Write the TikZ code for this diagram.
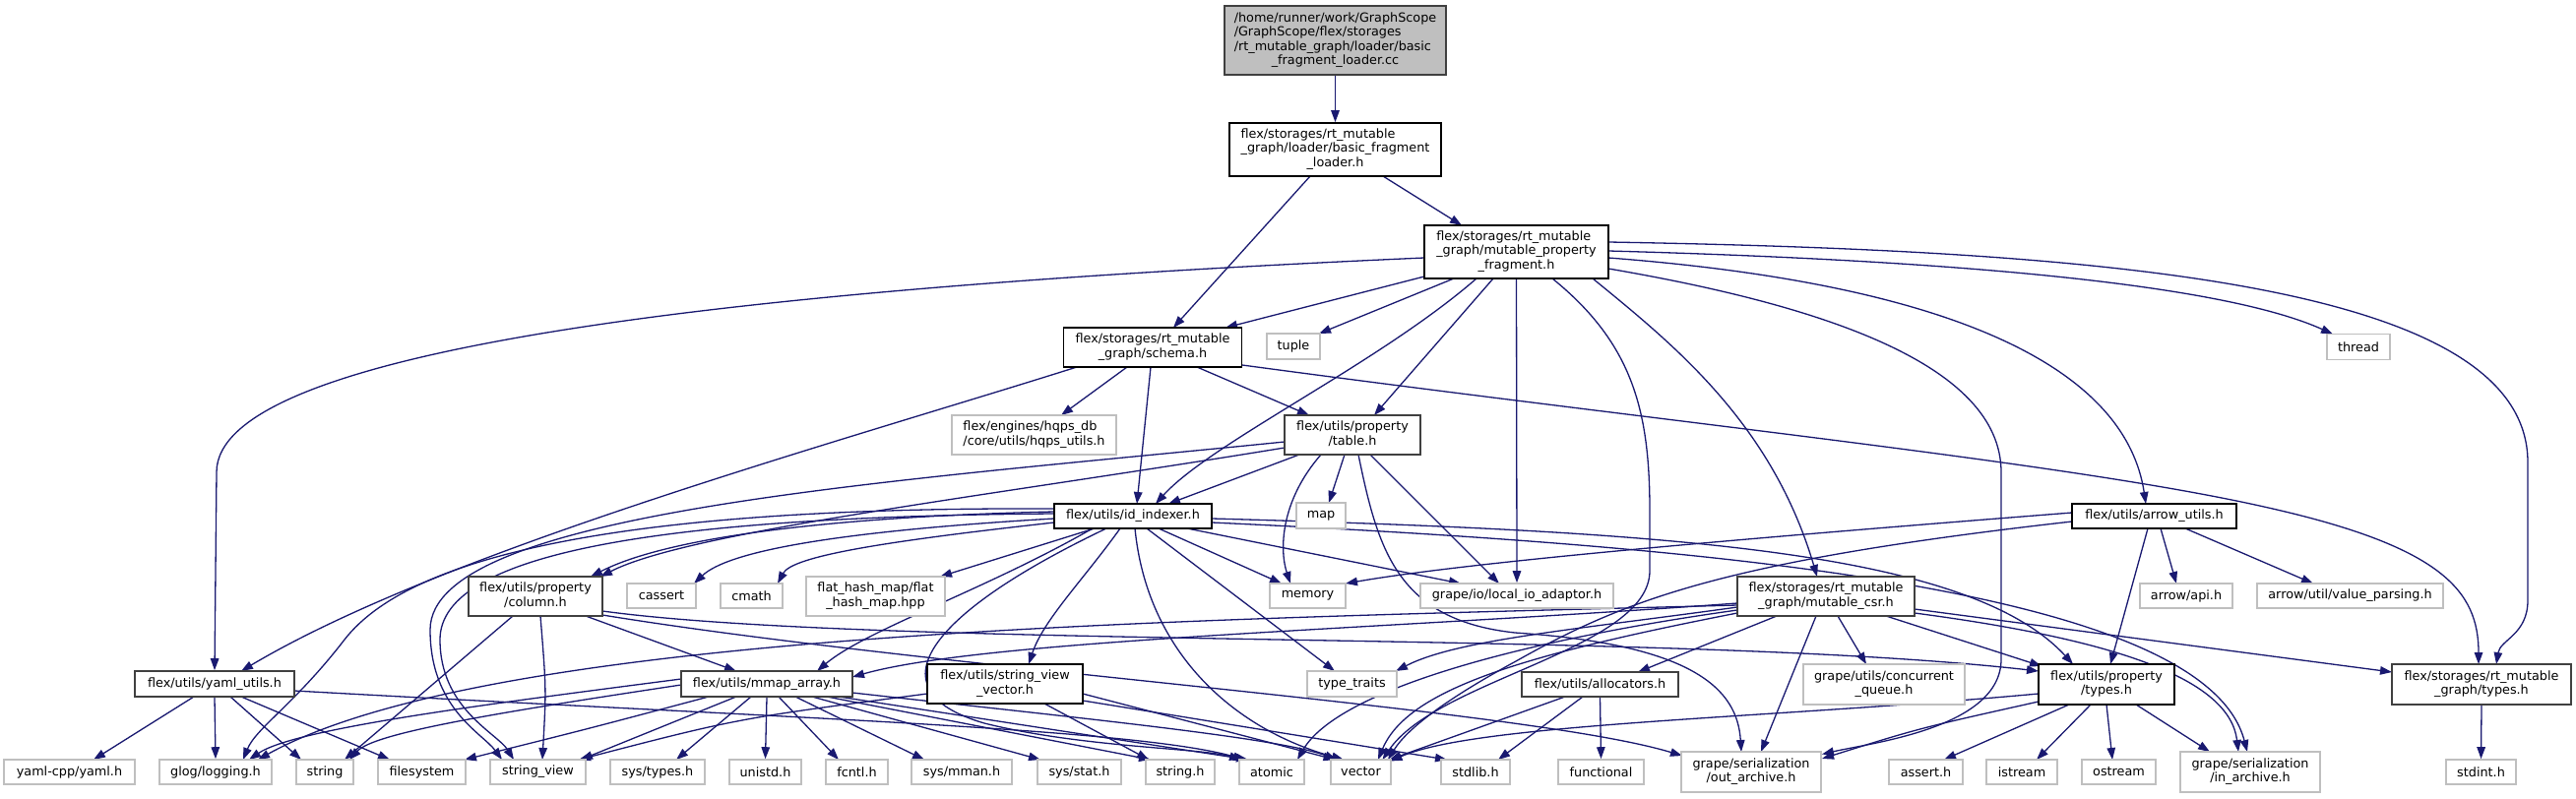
\documentclass[tikz,border=0pt]{standalone}
\usepackage{fontspec}
\setmainfont{DejaVu Sans}
\usetikzlibrary{arrows.meta,calc,backgrounds}
\definecolor{edgeblue}{HTML}{191970}
\definecolor{extgray}{HTML}{BFBFBF}
\definecolor{darkb}{HTML}{404040}
\newcommand\twol[2]{\begin{tabular}{@{}l@{}}#1\\\multicolumn{1}{@{}c@{}}{#2}\end{tabular}}
\tikzset{
  bx/.style 2 args={minimum width=#1pt, minimum height=#2pt},
  nd/.style={rectangle, inner sep=0pt, line width=1.6pt, fill=white, text=black,
             font=\fontsize{12.8pt}{14.5pt}\selectfont},
  ib/.style={nd, draw=black},
  ig/.style={nd, draw=darkb},
  xb/.style={nd, draw=extgray},
  rootb/.style={nd, draw=darkb, fill=extgray},
  edg/.style={draw=edgeblue, line width=1.3pt, -{Triangle[length=12pt,width=8.5pt]}}
}
\begin{document}
\begin{tikzpicture}[x=1pt,y=-1pt]
\useasboundingbox (0,0) rectangle (2617,811);
% ---------- nodes ----------
\node[rootb,bx={225}{70}] (root) at (1356.5,41) {\twol{/home/runner/work/GraphScope\\/GraphScope/flex/storages\\/rt\_mutable\_graph/loader/basic}{\_fragment\_loader.cc}};
\node[ib,bx={215}{54}] (basic) at (1356.5,152) {\twol{flex/storages/rt\_mutable\\\_graph/loader/basic\_fragment}{\_loader.h}};
\node[ib,bx={187}{54}] (frag) at (1540.5,256) {\twol{flex/storages/rt\_mutable\\\_graph/mutable\_property}{\_fragment.h}};
\node[ib,bx={181}{40}] (schema) at (1171,353) {\twol{flex/storages/rt\_mutable}{\_graph/schema.h}};
\node[xb,bx={54}{26}] (tuple) at (1314,352) {tuple};
\node[xb,bx={64}{26}] (thread) at (2396,352.5) {thread};
\node[xb,bx={167}{40}] (hqps) at (1050.5,442) {\twol{flex/engines/hqps\_db}{/core/utils/hqps\_utils.h}};
\node[ig,bx={138}{40}] (table) at (1374,442) {\twol{flex/utils/property}{/table.h}};
\node[ib,bx={160}{25}] (idx) at (1151,524.5) {flex/utils/id\_indexer.h};
\node[xb,bx={50}{26}] (map) at (1342,524) {map};
\node[ib,bx={167}{25}] (arrowu) at (2188.5,524.5) {flex/utils/arrow\_utils.h};
\node[ig,bx={136}{40}] (column) at (544,606) {\twol{flex/utils/property}{/column.h}};
\node[xb,bx={70}{25}] (cassert) at (672,605.5) {cassert};
\node[xb,bx={63}{25}] (cmath) at (763.5,605.5) {cmath};
\node[xb,bx={141}{40}] (flat) at (889.5,606) {\twol{flat\_hash\_map/flat}{\_hash\_map.hpp}};
\node[xb,bx={77}{25}] (memory) at (1328.5,605.5) {memory};
\node[xb,bx={196}{25}] (localio) at (1541,605.5) {grape/io/local\_io\_adaptor.h};
\node[ig,bx={180}{40}] (csr) at (1855,606) {\twol{flex/storages/rt\_mutable}{\_graph/mutable\_csr.h}};
\node[xb,bx={94}{25}] (arrowapi) at (2221,605.5) {arrow/api.h};
\node[xb,bx={189}{25}] (valparse) at (2387.5,605.5) {arrow/util/value\_parsing.h};
\node[ig,bx={162}{26}] (yaml) at (218,695) {flex/utils/yaml\_utils.h};
\node[ig,bx={174}{26}] (mmap) at (779,695) {flex/utils/mmap\_array.h};
\node[ib,bx={158}{40}] (svv) at (1021,695) {\twol{flex/utils/string\_view}{\_vector.h}};
\node[xb,bx={91}{26}] (typetr) at (1373.5,695) {type\_traits};
\node[ig,bx={159}{25}] (alloc) at (1625.5,695.5) {flex/utils/allocators.h};
\node[xb,bx={164}{41}] (cqueue) at (1914,695.5) {\twol{grape/utils/concurrent}{\_queue.h}};
\node[ib,bx={138}{41}] (ptypes) at (2140,695.5) {\twol{flex/utils/property}{/types.h}};
\node[ig,bx={182}{41}] (rtypes) at (2521,695.5) {\twol{flex/storages/rt\_mutable}{\_graph/types.h}};
% bottom row
\node[xb,bx={133}{25}] (yamlcpp) at (70.5,784.5) {yaml-cpp/yaml.h};
\node[xb,bx={114}{25}] (glog) at (219,784.5) {glog/logging.h};
\node[xb,bx={58}{25}] (string) at (330,784.5) {string};
\node[xb,bx={89}{25}] (fs) at (428.5,784.5) {filesystem};
\node[xb,bx={97}{25}] (sv) at (546.5,784.5) {string\_view};
\node[xb,bx={96}{25}] (systypes) at (668,784.5) {sys/types.h};
\node[xb,bx={73}{25}] (unistd) at (777.5,784.5) {unistd.h};
\node[xb,bx={63}{25}] (fcntl) at (870.5,784.5) {fcntl.h};
\node[xb,bx={102}{25}] (sysmman) at (977,784.5) {sys/mman.h};
\node[xb,bx={85}{25}] (sysstat) at (1096.5,784.5) {sys/stat.h};
\node[xb,bx={70}{25}] (stringh) at (1199,784.5) {string.h};
\node[xb,bx={66}{25}] (atomic) at (1292,784.5) {atomic};
\node[xb,bx={61}{25}] (vector) at (1382.5,784.5) {vector};
\node[xb,bx={70}{25}] (stdlib) at (1499,784.5) {stdlib.h};
\node[xb,bx={87}{25}] (functional) at (1626.5,784.5) {functional};
\node[xb,bx={142}{41}] (outar) at (1779,784.5) {\twol{grape/serialization}{/out\_archive.h}};
\node[xb,bx={75}{25}] (asserth) at (1956.5,784.5) {assert.h};
\node[xb,bx={72}{25}] (istream) at (2054,784.5) {istream};
\node[xb,bx={75}{25}] (ostream) at (2152.5,784.5) {ostream};
\node[xb,bx={142}{41}] (inar) at (2286,784.5) {\twol{grape/serialization}{/in\_archive.h}};
\node[xb,bx={71}{25}] (stdint) at (2520.5,784.5) {stdint.h};
% ---------- edges ----------
\begin{pgfonlayer}{background}
\fill[white] (0,0) rectangle (2617,811);
\draw[edg] (root.south) -- (basic.north);
\draw[edg] ($(basic)+(-25.5,27)$) -- ($(schema)+(21,-20)$);
\draw[edg] ($(basic)+(48.5,27)$) -- ($(frag)+(-55.5,-27)$);
% fragment
\draw[edg] ($(frag)+(-93.5,25)$) -- ($(schema)+(74,-20)$);
\draw[edg] ($(frag)+(-63.5,27)$) -- ($(tuple)+(26,-13)$);
\draw[edg] ($(frag)+(-40.5,27)$) .. controls (1400,370) and (1230,450) .. ($(idx)+(23,-12.5)$);
\draw[edg] ($(frag)+(-23.5,27)$) -- ($(table)+(22,-20)$);
\draw[edg] (frag.south) -- (localio.north);
\draw[edg] ($(frag)+(36.5,27)$) .. controls (1660,350) and (1676,420) .. (1676,520) -- (1676,580) .. controls (1676,660) and (1460,690) .. ($(vector)+(22,-12.5)$);
\draw[edg] ($(frag)+(77.5,27)$) .. controls (1700,350) and (1800,430) .. ($(csr)+(-9,-20)$);
\draw[edg] ($(frag)+(93.5,17)$) .. controls (1850,310) and (2033,370) .. (2033,480) -- (2033,670) .. controls (2033,740) and (1900,755) .. ($(outar)+(72,-18)$);
\draw[edg] ($(frag)+(93.5,6)$) .. controls (2000,290) and (2160,380) .. ($(arrowu)+(-8.5,-12.5)$);
\draw[edg] ($(frag)+(93.5,-1)$) .. controls (2000,265) and (2260,290) .. ($(thread)+(-26,-13)$);
\draw[edg] ($(frag)+(93.5,-10)$) .. controls (2150,255) and (2568,290) .. (2568,470) -- (2568,610) .. controls (2568,645) and (2540,650) .. ($(rtypes)+(15,-20.5)$);
\draw[edg] ($(frag)+(-93.5,6)$) .. controls (700,295) and (220,360) .. (220,480) -- (yaml.north);
% schema
\draw[edg] ($(schema)+(-77,20)$) .. controls (850,450) and (450,560) .. ($(yaml)+(27,-13)$);
\draw[edg] ($(schema)+(-26,20)$) -- ($(hqps)+(27.5,-20)$);
\draw[edg] ($(schema)+(-2,20)$) -- ($(idx)+(4,-12.5)$);
\draw[edg] ($(schema)+(45,20)$) -- ($(table)+(-44,-20)$);
\draw[edg] ($(schema)+(91,18)$) .. controls (1700,430) and (2100,470) .. (2300,515) .. controls (2480,555) and (2518,600) .. ($(rtypes)+(-3,-20.5)$);
% table
\draw[edg] ($(table)+(-69,13)$) .. controls (1000,505) and (700,540) .. ($(column)+(66,-20)$);
\draw[edg] ($(table)+(-69,7)$) .. controls (900,490) and (437,520) .. (437,640) .. controls (437,720) and (490,745) .. ($(sv)+(-36.5,-12.5)$);
\draw[edg] ($(table)+(-54,20)$) -- ($(idx)+(36,-12.5)$);
\draw[edg] ($(table)+(-8,20)$) -- ($(map)+(8,-13)$);
\draw[edg] ($(table)+(-32,20)$) .. controls (1300,510) and (1300,560) .. ($(memory)+(-17.5,-12.5)$);
\draw[edg] ($(table)+(18,20)$) -- ($(localio)+(-18,-12.5)$);
\draw[edg] ($(table)+(6,20)$) .. controls (1400,560) and (1420,630) .. (1539,643) .. controls (1720,655) and (1765,700) .. ($(outar)+(-10,-20.5)$);
% id_indexer
\draw[edg] ($(idx)+(-80,-4.5)$) .. controls (850,525) and (680,545) .. ($(column)+(56,-20)$);
\draw[edg] ($(idx)+(-80,2.5)$) .. controls (850,540) and (740,560) .. ($(cassert)+(33,-12.5)$);
\draw[edg] ($(idx)+(-80,6.5)$) .. controls (900,550) and (805,565) .. ($(cmath)+(26.5,-12.5)$);
\draw[edg] ($(idx)+(-39,12.5)$) -- ($(flat)+(65.5,-20)$);
\draw[edg] ($(idx)+(-80,-7.5)$) .. controls (650,515) and (420,560) .. (350,650) .. controls (300,715) and (260,740) .. ($(glog)+(28,-12.5)$);
\draw[edg] ($(idx)+(-80,-2.5)$) .. controls (680,525) and (447,560) .. (447,650) .. controls (447,720) and (505,745) .. ($(sv)+(-24.5,-12.5)$);
\draw[edg] ($(idx)+(-41,12.5)$) .. controls (1000,600) and (880,640) .. ($(mmap)+(51,-13)$);
\draw[edg] ($(idx)+(-13,12.5)$) .. controls (1100,590) and (1060,630) .. ($(svv)+(24,-20)$);
\draw[edg] ($(idx)+(-27,12.5)$) .. controls (950,620) and (880,700) .. (1000,735) .. controls (1100,760) and (1220,760) .. ($(atomic)+(-31,-12.5)$);
\draw[edg] ($(idx)+(2,12.5)$) .. controls (1165,660) and (1250,740) .. ($(vector)+(-17.5,-12.5)$);
\draw[edg] ($(idx)+(14,12.5)$) -- ($(typetr)+(-17.5,-13)$);
\draw[edg] ($(idx)+(26,12.5)$) -- ($(memory)+(-26.5,-12.5)$);
\draw[edg] ($(idx)+(55,12.5)$) -- ($(localio)+(-57,-12.5)$);
\draw[edg] ($(idx)+(80,2.5)$) .. controls (1700,540) and (2000,560) .. ($(ptypes)+(-34,-20.5)$);
\draw[edg] ($(idx)+(80,6.5)$) .. controls (1750,555) and (2240,600) .. ($(inar)+(-3,-20.5)$);
% column
\draw[edg] ($(column)+(-23,20)$) -- ($(string)+(20,-12.5)$);
\draw[edg] ($(column)+(5,20)$) .. controls (555,700) .. ($(sv)+(4.5,-12.5)$);
\draw[edg] ($(column)+(51,20)$) -- ($(mmap)+(-31,-13)$);
\draw[edg] ($(column)+(68,15)$) .. controls (900,660) and (1700,640) .. ($(ptypes)+(-69,-13.5)$);
\draw[edg] ($(column)+(68,19)$) .. controls (950,680) and (1550,720) .. ($(outar)+(-70,-16.5)$);
% yaml_utils
\draw[edg] ($(yaml)+(-21,13)$) -- ($(yamlcpp)+(24.5,-12.5)$);
\draw[edg] (yaml.south) -- (glog.north);
\draw[edg] ($(yaml)+(16,13)$) -- ($(string)+(-24,-12.5)$);
\draw[edg] ($(yaml)+(27,13)$) -- ($(fs)+(-32.5,-12.5)$);
\draw[edg] ($(yaml)+(81,7)$) .. controls (800,730) and (1150,740) .. ($(atomic)+(-27,-12.5)$);
% mmap_array
\draw[edg] ($(mmap)+(-87,-5)$) .. controls (500,715) and (300,740) .. ($(glog)+(34,-12.5)$);
\draw[edg] ($(mmap)+(-87,1)$) .. controls (500,725) and (380,745) .. ($(string)+(25,-12.5)$);
\draw[edg] ($(mmap)+(-59,13)$) .. controls (600,740) .. ($(fs)+(43.5,-12.5)$);
\draw[edg] ($(mmap)+(-31,13)$) -- ($(sv)+(43.5,-12.5)$);
\draw[edg] ($(mmap)+(-16,13)$) -- ($(systypes)+(19,-12.5)$);
\draw[edg] (mmap.south) -- (unistd.north);
\draw[edg] ($(mmap)+(12,13)$) -- ($(fcntl)+(-18.5,-12.5)$);
\draw[edg] ($(mmap)+(29,13)$) -- ($(sysmman)+(-38,-12.5)$);
\draw[edg] ($(mmap)+(46,13)$) -- ($(sysstat)+(-39.5,-12.5)$);
\draw[edg] ($(mmap)+(61,13)$) -- ($(stringh)+(-30,-12.5)$);
\draw[edg] ($(mmap)+(73,13)$) -- ($(atomic)+(-24,-12.5)$);
\draw[edg] ($(mmap)+(87,9)$) .. controls (1100,730) and (1300,750) .. ($(vector)+(-24.5,-12.5)$);
% string_view_vector
\draw[edg] ($(svv)+(-79,10)$) .. controls (750,730) .. ($(sv)+(41.5,-12.5)$);
\draw[edg] ($(svv)+(40,20)$) -- ($(stringh)+(-32,-12.5)$);
\draw[edg] ($(svv)+(79,10)$) -- ($(vector)+(-26,-12.5)$);
\draw[edg] ($(svv)+(79,17)$) -- ($(stdlib)+(-29,-12.5)$);
% mutable_csr
\draw[edg] ($(csr)+(-90,7)$) .. controls (1400,640) and (1000,650) .. ($(mmap)+(87,-7)$);
\draw[edg] ($(csr)+(-90,11)$) .. controls (1600,640) and (1480,650) .. ($(typetr)+(44.5,-13)$);
\draw[edg] ($(csr)+(-90,14)$) .. controls (1550,650) and (1360,700) .. ($(atomic)+(26,-12.5)$);
\draw[edg] ($(csr)+(-90,17)$) .. controls (1550,665) and (1430,700) .. ($(vector)+(17.5,-12.5)$);
\draw[edg] ($(csr)+(-90,9)$) .. controls (1200,630) and (500,640) .. ($(glog)+(43,-12.5)$);
\draw[edg] ($(csr)+(-50,20)$) -- ($(alloc)+(38.5,-12.5)$);
\draw[edg] ($(csr)+(-10,20)$) -- ($(outar)+(10,-20.5)$);
\draw[edg] ($(csr)+(12,20)$) -- ($(cqueue)+(-18,-20.5)$);
\draw[edg] ($(csr)+(61,20)$) -- ($(ptypes)+(-66,-18.5)$);
\draw[edg] ($(csr)+(90,13)$) -- ($(rtypes)+(-91,-12.5)$);
\draw[edg] ($(csr)+(90,17)$) .. controls (2150,650) and (2265,690) .. ($(inar)+(-12,-20.5)$);
% arrow_utils
\draw[edg] ($(arrowu)+(-83.5,-3.5)$) .. controls (1800,545) and (1500,570) .. ($(memory)+(38.5,-12.5)$);
\draw[edg] ($(arrowu)+(-83.5,5.5)$) .. controls (1750,570) and (1650,610) .. (1540,672) .. controls (1470,710) and (1430,740) .. ($(vector)+(27.5,-12.5)$);
\draw[edg] ($(arrowu)+(-6.5,12.5)$) -- ($(ptypes)+(4,-20.5)$);
\draw[edg] ($(arrowu)+(6.5,12.5)$) -- ($(arrowapi)+(-10,-12.5)$);
\draw[edg] ($(arrowu)+(31.5,12.5)$) -- ($(valparse)+(-37.5,-12.5)$);
% allocators
\draw[edg] ($(alloc)+(-35.5,12.5)$) -- ($(vector)+(29,-12.5)$);
\draw[edg] ($(alloc)+(-17.5,12.5)$) -- ($(stdlib)+(23,-12.5)$);
\draw[edg] (alloc.south) -- (functional.north);
% property/types
\draw[edg] ($(ptypes)+(-69,9.5)$) .. controls (1800,730) and (1500,735) .. ($(vector)+(30,-11)$);
\draw[edg] ($(ptypes)+(-69,17.5)$) .. controls (1950,740) .. ($(outar)+(72,-13.5)$);
\draw[edg] ($(ptypes)+(-38,20.5)$) -- ($(asserth)+(18.5,-12.5)$);
\draw[edg] ($(ptypes)+(-16,20.5)$) -- ($(istream)+(15,-12.5)$);
\draw[edg] ($(ptypes)+(0,20.5)$) -- ($(ostream)+(-6.5,-12.5)$);
\draw[edg] ($(ptypes)+(30,20.5)$) -- ($(inar)+(-41,-20.5)$);
% rt types
\draw[edg] (rtypes.south) -- (stdint.north);
\end{pgfonlayer}
\end{tikzpicture}
\end{document}
